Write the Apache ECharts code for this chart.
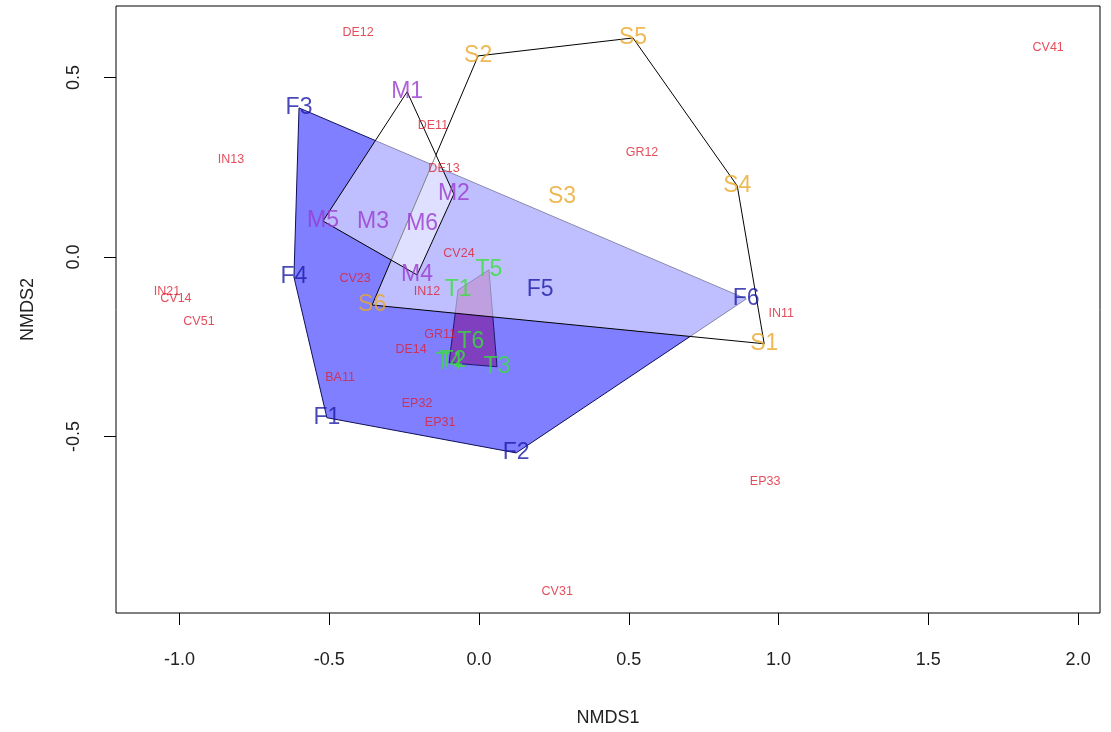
<!DOCTYPE html>
<html>
<head>
<meta charset="utf-8">
<title>NMDS</title>
<script src="https://cdn.jsdelivr.net/npm/echarts@6/dist/echarts.min.js"></script>
<style>
  html, body { margin: 0; padding: 0; background: #fff; }
  #chart { width: 1111px; height: 732px; }
</style>
</head>
<body>
<div id="chart"></div>
<script>
// site scores (small red labels)
const sites = [
  ['DE12', -0.404, 0.624], ['CV41', 1.900, 0.582], ['DE11', -0.154, 0.365],
  ['IN13', -0.828, 0.270], ['DE13', -0.117, 0.245], ['GR12', 0.544, 0.290],
  ['CV24', -0.067, 0.008], ['CV23', -0.414, -0.061], ['IN12', -0.174, -0.097],
  ['IN21', -1.042, -0.097], ['CV14', -1.012, -0.117], ['CV51', -0.935, -0.181],
  ['IN11', 1.009, -0.159], ['GR11', -0.130, -0.217], ['DE14', -0.227, -0.259],
  ['BA11', -0.464, -0.337], ['EP32', -0.207, -0.409], ['EP31', -0.130, -0.462],
  ['EP33', 0.955, -0.627], ['CV31', 0.261, -0.933]
];
// group scores
const groupF = [
  ['F1', -0.508, -0.448], ['F2', 0.124, -0.546], ['F3', -0.601, 0.415],
  ['F4', -0.618, -0.056], ['F5', 0.204, -0.092], ['F6', 0.892, -0.117]
];
const groupM = [
  ['M1', -0.240, 0.460], ['M2', -0.084, 0.175], ['M3', -0.354, 0.097],
  ['M4', -0.207, -0.050], ['M5', -0.521, 0.100], ['M6', -0.190, 0.092]
];
const groupS = [
  ['S1', 0.952, -0.242], ['S2', -0.003, 0.560], ['S3', 0.277, 0.167],
  ['S4', 0.862, 0.198], ['S5', 0.514, 0.610], ['S6', -0.357, -0.134]
];
const groupT = [
  ['T1', -0.070, -0.092], ['T2', -0.087, -0.290], ['T3', 0.060, -0.306],
  ['T4', -0.100, -0.295], ['T5', 0.033, -0.036], ['T6', -0.027, -0.237]
];
const xTicks = [-1, -0.5, 0, 0.5, 1, 1.5, 2];
const yTicks = [-0.5, 0, 0.5];

const axisFont = "'Liberation Sans Narrow', 'Liberation Sans', Arial, sans-serif";
const textFont = "'Liberation Sans', Arial, sans-serif";

// convex hull (monotone chain), like ordihull
function hull(pts) {
  const p = pts.slice().sort((a, b) => a[1] - b[1] || a[2] - b[2]);
  const cross = (o, a, b) => (a[1] - o[1]) * (b[2] - o[2]) - (a[2] - o[2]) * (b[1] - o[1]);
  const lower = [], upper = [];
  p.forEach(q => {
    while (lower.length >= 2 && cross(lower[lower.length - 2], lower[lower.length - 1], q) <= 0) lower.pop();
    lower.push(q);
  });
  p.slice().reverse().forEach(q => {
    while (upper.length >= 2 && cross(upper[upper.length - 2], upper[upper.length - 1], q) <= 0) upper.pop();
    upper.push(q);
  });
  return lower.slice(0, -1).concat(upper.slice(0, -1));
}

function hullSeries(pts, fill, stroke) {
  const h = hull(pts);
  return {
    type: "custom",
    coordinateSystem: "cartesian2d",
    silent: true,
    data: pts.map(p => [p[1], p[2]]),
    renderItem: function (params, api) {
      if (params.dataIndex !== 0) return;
      return {
        type: "polygon",
        shape: { points: h.map(p => api.coord([p[1], p[2]])) },
        style: { fill: fill, stroke: stroke, lineWidth: 1 },
      };
    },
  };
}

function labelSeries(pts, color, size) {
  return {
    type: "scatter",
    silent: true,
    symbolSize: 1,
    itemStyle: { color: "rgba(0,0,0,0)" },
    z: 5,
    data: pts.map(p => ({ name: p[0], value: [p[1], p[2]] })),
    label: {
      show: true,
      position: "inside",
      formatter: "{b}",
      color: color,
      fontSize: size,
      fontFamily: textFont,
    },
  };
}

const myChart = echarts.init(document.getElementById("chart"));
const option = {
  backgroundColor: "#fff",
  animation: false,
  grid: {
    left: 116, right: 11, top: 6, bottom: 119,
    show: true, borderColor: "#000", borderWidth: 1,
  },
  xAxis: {
    type: "value",
    min: -1.212, max: 2.073,
    name: "NMDS1",
    nameLocation: "middle",
    nameGap: 105,
    nameTextStyle: { fontSize: 18, color: "#222", fontFamily: axisFont, verticalAlign: "middle" },
    axisLine: { show: false, onZero: false },
    splitLine: { show: false },
    axisTick: { show: true, customValues: xTicks, length: 12, lineStyle: { color: "#000" } },
    axisLabel: {
      customValues: xTicks,
      formatter: v => v.toFixed(1),
      margin: 38,
      fontSize: 18,
      color: "#222",
      fontFamily: axisFont,
    },
  },
  yAxis: {
    type: "value",
    min: -0.992, max: 0.699,
    name: "NMDS2",
    nameLocation: "middle",
    nameGap: 88,
    nameTextStyle: { fontSize: 18, color: "#222", fontFamily: axisFont, verticalAlign: "middle" },
    axisLine: { show: false, onZero: false },
    splitLine: { show: false },
    axisTick: { show: true, customValues: yTicks, length: 12, lineStyle: { color: "#000" } },
    axisLabel: {
      customValues: yTicks,
      formatter: v => v.toFixed(1),
      rotate: 90,
      margin: 42,
      align: "center",
      verticalAlign: "middle",
      fontSize: 18,
      color: "#222",
      fontFamily: axisFont,
    },
  },
  series: [
    hullSeries(groupF, "rgba(0,0,255,0.5)", "#10105a"),
    hullSeries(groupT, "rgba(128,0,128,0.5)", "#1a1a70"),
    hullSeries(groupS, "rgba(255,255,255,0.5)", "#000"),
    hullSeries(groupM, "rgba(255,255,255,0.5)", "#000"),
    labelSeries(sites, "#dd2233", 12.5),
    labelSeries(groupF, "#1a1aa8", 23),
    labelSeries(groupM, "#9a3ad0", 23),
    labelSeries(groupS, "#e8a82a", 23),
    labelSeries(groupT, "#3ae03a", 23),
  ],
};
myChart.setOption(option);
</script>
</body>
</html>
